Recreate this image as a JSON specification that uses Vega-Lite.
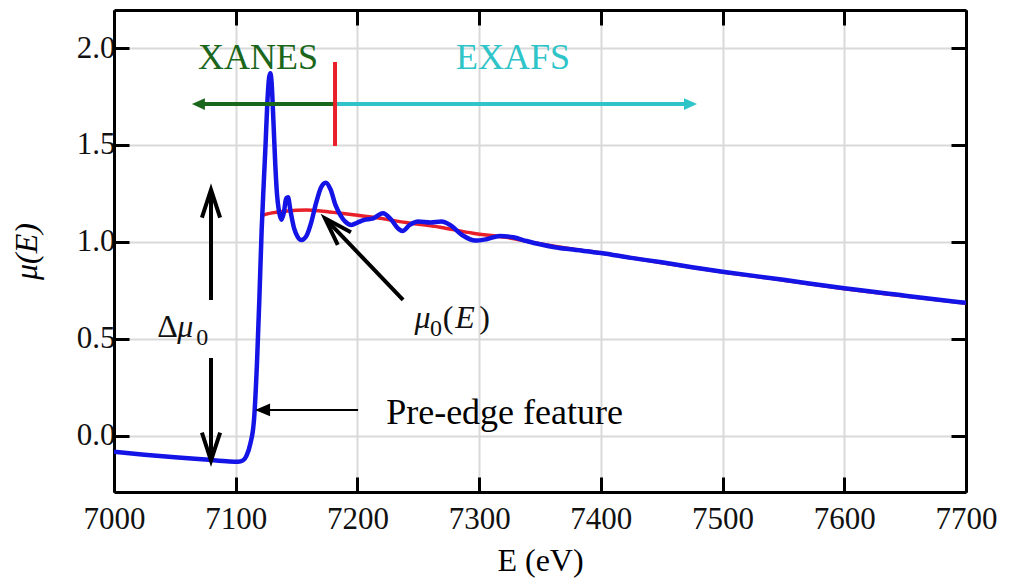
{
  "$schema": "https://vega.github.io/schema/vega-lite/v6.json",
  "width": 852,
  "height": 482,
  "autosize": {"type": "none"},
  "padding": {"left": 114, "top": 10, "right": 43, "bottom": 89},
  "background": "white",
  "config": {"view": {"stroke": null}, "font": "Liberation Serif"},
  "datasets": {
    "blue": [
      {"x": 7000, "y": -0.082}, {"x": 7025, "y": -0.097}, {"x": 7050, "y": -0.110}, {"x": 7075, "y": -0.122},
      {"x": 7095, "y": -0.132}, {"x": 7102, "y": -0.133}, {"x": 7106, "y": -0.126}, {"x": 7109, "y": -0.100},
      {"x": 7112, "y": -0.040}, {"x": 7115, "y": 0.080}, {"x": 7117.5, "y": 0.380}, {"x": 7119.5, "y": 0.720},
      {"x": 7121.3, "y": 1.060}, {"x": 7123, "y": 1.300}, {"x": 7124.5, "y": 1.500}, {"x": 7126, "y": 1.720},
      {"x": 7127.5, "y": 1.850}, {"x": 7128.5, "y": 1.870}, {"x": 7129.5, "y": 1.820}, {"x": 7131, "y": 1.620},
      {"x": 7132.5, "y": 1.400}, {"x": 7134, "y": 1.240}, {"x": 7135.5, "y": 1.160}, {"x": 7137.5, "y": 1.115},
      {"x": 7139.5, "y": 1.150}, {"x": 7141.5, "y": 1.225}, {"x": 7143, "y": 1.230}, {"x": 7145, "y": 1.160},
      {"x": 7148, "y": 1.070}, {"x": 7151, "y": 1.025}, {"x": 7154, "y": 1.010}, {"x": 7158, "y": 1.030},
      {"x": 7162, "y": 1.100}, {"x": 7166, "y": 1.200}, {"x": 7170, "y": 1.280}, {"x": 7174, "y": 1.306},
      {"x": 7178, "y": 1.270}, {"x": 7182, "y": 1.190}, {"x": 7186, "y": 1.139}, {"x": 7190, "y": 1.105},
      {"x": 7195, "y": 1.088}, {"x": 7200, "y": 1.100}, {"x": 7205, "y": 1.113}, {"x": 7213, "y": 1.122},
      {"x": 7221, "y": 1.148}, {"x": 7228, "y": 1.113}, {"x": 7234, "y": 1.066}, {"x": 7237, "y": 1.057},
      {"x": 7243, "y": 1.088}, {"x": 7250, "y": 1.105}, {"x": 7260, "y": 1.100}, {"x": 7269, "y": 1.105},
      {"x": 7276, "y": 1.088}, {"x": 7286, "y": 1.036}, {"x": 7297, "y": 1.007}, {"x": 7306, "y": 1.014},
      {"x": 7317, "y": 1.031}, {"x": 7328, "y": 1.024}, {"x": 7339, "y": 1.005}, {"x": 7350, "y": 0.988},
      {"x": 7362, "y": 0.973}, {"x": 7375, "y": 0.962}, {"x": 7400, "y": 0.943}, {"x": 7425, "y": 0.918}, {"x": 7450, "y": 0.895},
      {"x": 7475, "y": 0.870}, {"x": 7500, "y": 0.847}, {"x": 7550, "y": 0.805}, {"x": 7600, "y": 0.761},
      {"x": 7650, "y": 0.723}, {"x": 7700, "y": 0.686}
    ],
    "red": [
      {"x": 7122.5, "y": 1.139}, {"x": 7130, "y": 1.150}, {"x": 7140, "y": 1.158}, {"x": 7150, "y": 1.163},
      {"x": 7158, "y": 1.165}, {"x": 7170, "y": 1.160}, {"x": 7186, "y": 1.148}, {"x": 7200, "y": 1.138},
      {"x": 7213, "y": 1.127}, {"x": 7240, "y": 1.100}, {"x": 7268, "y": 1.076}, {"x": 7295, "y": 1.045},
      {"x": 7322, "y": 1.024}, {"x": 7345, "y": 0.996}, {"x": 7375, "y": 0.965}, {"x": 7400, "y": 0.943},
      {"x": 7450, "y": 0.893}, {"x": 7500, "y": 0.845}, {"x": 7550, "y": 0.803}, {"x": 7600, "y": 0.759},
      {"x": 7650, "y": 0.721}, {"x": 7700, "y": 0.684}
    ],
    "segs": [
      {"g": "xanes", "x": 7072, "y": 1.711, "x2": 7181.6, "y2": 1.711},
      {"g": "exafs", "x": 7181.6, "y": 1.711, "x2": 7472, "y2": 1.711},
      {"g": "edge", "x": 7181.6, "y": 1.928, "x2": 7181.6, "y2": 1.495},
      {"g": "note", "x": 7079.7, "y": 1.268, "x2": 7079.7, "y2": 0.701},
      {"g": "note", "x": 7079.7, "y": 0.402, "x2": 7079.7, "y2": -0.125},
      {"g": "note", "x": 7237.5, "y": 0.701, "x2": 7173.4, "y2": 1.122}
    ],
    "thin": [{"x": 7200.5, "y": 0.134, "x2": 7122, "y2": 0.134}],
    "labels": [
      {"t": "XANES", "x": 7118.3, "y": 1.892, "g": "xanes"},
      {"t": "EXAFS", "x": 7327.8, "y": 1.892, "g": "exafs"},
      {"t": "Pre-edge feature", "x": 7320.9, "y": 0.062, "g": "note"}
    ],
    "mathItalic": [
      {"t": "μ", "x": 7058.5, "y": 0.510},
      {"t": "μ", "x": 7253.5, "y": 0.557},
      {"t": "E", "x": 7288.4, "y": 0.557}
    ],
    "mathUpright": [
      {"t": "Δ", "x": 7044.0, "y": 0.510},
      {"t": "(", "x": 7274.5, "y": 0.557},
      {"t": ")", "x": 7304.5, "y": 0.557}
    ],
    "mathSub": [
      {"t": "0", "x": 7072.5, "y": 0.469},
      {"t": "0", "x": 7264.6, "y": 0.515}
    ]
  },
  "resolve": {"axis": {"x": "independent", "y": "independent"}},
  "layer": [
    {
      "data": {"name": "red"},
      "mark": {"type": "line", "interpolate": "monotone", "strokeWidth": 3.5, "color": "#e8202a", "clip": true},
      "encoding": {
        "x": {"field": "x", "type": "quantitative", "scale": {"domain": [7000, 7700], "nice": false, "zero": false},
          "axis": {"orient": "top", "values": [7000, 7100, 7200, 7300, 7400, 7500, 7600, 7700], "labels": false, "title": null,
            "grid": false, "tickSize": -15, "tickWidth": 3, "tickColor": "#000", "domainColor": "#000", "domainWidth": 3}},
        "y": {"field": "y", "type": "quantitative", "scale": {"domain": [-0.289, 2.196], "nice": false, "zero": false},
          "axis": {"orient": "right", "values": [0, 0.5, 1, 1.5, 2], "labels": false, "title": null,
            "grid": false, "tickSize": -15, "tickWidth": 3, "tickColor": "#000", "domainColor": "#000", "domainWidth": 3}}
      }
    },
    {
      "data": {"name": "blue"},
      "mark": {"type": "line", "interpolate": "monotone", "strokeWidth": 4.5, "color": "#1414e6", "clip": true},
      "encoding": {
        "x": {"field": "x", "type": "quantitative", "scale": {"domain": [7000, 7700], "nice": false, "zero": false},
          "axis": {"orient": "bottom", "values": [7000, 7100, 7200, 7300, 7400, 7500, 7600, 7700], "format": "d",
            "title": "E (eV)", "titleFont": "Liberation Serif", "titleFontSize": 32, "titleFontWeight": "normal", "titleColor": "#000", "titlePadding": 11,
            "labelFont": "Liberation Serif", "labelFontSize": 31, "labelColor": "#111", "labelPadding": 27, "labelFlush": false, "labelOverlap": false,
            "grid": true, "gridColor": "#d9d9d9", "gridWidth": 2,
            "tickSize": -15, "tickWidth": 3, "tickColor": "#000", "domainColor": "#000", "domainWidth": 3}},
        "y": {"field": "y", "type": "quantitative", "scale": {"domain": [-0.289, 2.196], "nice": false, "zero": false},
          "axis": {"orient": "left", "values": [0, 0.5, 1, 1.5, 2], "format": ".1f",
            "title": "μ(E)", "titleFont": "Liberation Serif", "titleFontSize": 32, "titleFontWeight": "normal", "titleFontStyle": "italic", "titleColor": "#000", "titlePadding": 33,
            "labelFont": "Liberation Serif", "labelFontSize": 31, "labelColor": "#111", "labelPadding": 14, "labelFlush": false, "labelOverlap": false,
            "grid": true, "gridColor": "#d9d9d9", "gridWidth": 2,
            "tickSize": -15, "tickWidth": 3, "tickColor": "#000", "domainColor": "#000", "domainWidth": 3}}
      }
    },
    {
      "data": {"name": "segs"},
      "mark": {"type": "rule", "strokeWidth": 4, "clip": false},
      "encoding": {
        "x": {"field": "x", "type": "quantitative", "scale": {"domain": [7000, 7700], "nice": false, "zero": false}, "axis": null},
        "y": {"field": "y", "type": "quantitative", "scale": {"domain": [-0.289, 2.196], "nice": false, "zero": false}, "axis": null},
        "x2": {"field": "x2"},
        "y2": {"field": "y2"},
        "color": {"field": "g", "type": "nominal", "scale": {"domain": ["xanes", "exafs", "edge", "note"], "range": ["#1a661a", "#2ec4c8", "#e8202a", "#000000"]}, "legend": null}
      }
    },
    {
      "data": {"name": "thin"},
      "mark": {"type": "rule", "strokeWidth": 2, "color": "#000", "clip": false},
      "encoding": {
        "x": {"field": "x", "type": "quantitative", "scale": {"domain": [7000, 7700], "nice": false, "zero": false}, "axis": null},
        "y": {"field": "y", "type": "quantitative", "scale": {"domain": [-0.289, 2.196], "nice": false, "zero": false}, "axis": null},
        "x2": {"field": "x2"},
        "y2": {"field": "y2"}
      }
    },
    {
      "data": {"values": [{"x": 7079.7, "y": 1.27}]},
      "mark": {"type": "point", "shape": "M -0.65 2 L 0 0 L 0.65 2", "filled": false, "stroke": "#000", "strokeWidth": 4, "size": 784, "opacity": 1, "angle": 0, "strokeJoin": "miter", "clip": false},
      "encoding": {
        "x": {"field": "x", "type": "quantitative", "scale": {"domain": [7000, 7700], "nice": false, "zero": false}, "axis": null},
        "y": {"field": "y", "type": "quantitative", "scale": {"domain": [-0.289, 2.196], "nice": false, "zero": false}, "axis": null}
      }
    },
    {
      "data": {"values": [{"x": 7079.7, "y": -0.127}]},
      "mark": {"type": "point", "shape": "M -0.65 2 L 0 0 L 0.65 2", "filled": false, "stroke": "#000", "strokeWidth": 4, "size": 784, "opacity": 1, "angle": 180, "strokeJoin": "miter", "clip": false},
      "encoding": {
        "x": {"field": "x", "type": "quantitative", "scale": {"domain": [7000, 7700], "nice": false, "zero": false}, "axis": null},
        "y": {"field": "y", "type": "quantitative", "scale": {"domain": [-0.289, 2.196], "nice": false, "zero": false}, "axis": null}
      }
    },
    {
      "data": {"values": [{"x": 7173.4, "y": 1.122}]},
      "mark": {"type": "point", "shape": "M -0.65 2 L 0 0 L 0.65 2", "filled": false, "stroke": "#000", "strokeWidth": 4, "size": 784, "opacity": 1, "angle": 316.4, "strokeJoin": "miter", "clip": false},
      "encoding": {
        "x": {"field": "x", "type": "quantitative", "scale": {"domain": [7000, 7700], "nice": false, "zero": false}, "axis": null},
        "y": {"field": "y", "type": "quantitative", "scale": {"domain": [-0.289, 2.196], "nice": false, "zero": false}, "axis": null}
      }
    },
    {
      "data": {"values": [{"x": 7064, "y": 1.711}]},
      "mark": {"type": "point", "shape": "M 0 0 L 2 -0.9 L 2 0.9 Z", "filled": true, "color": "#1a661a", "size": 169, "opacity": 1, "clip": false},
      "encoding": {
        "x": {"field": "x", "type": "quantitative", "scale": {"domain": [7000, 7700], "nice": false, "zero": false}, "axis": null},
        "y": {"field": "y", "type": "quantitative", "scale": {"domain": [-0.289, 2.196], "nice": false, "zero": false}, "axis": null}
      }
    },
    {
      "data": {"values": [{"x": 7479, "y": 1.711}]},
      "mark": {"type": "point", "shape": "M 0 0 L -2 -0.9 L -2 0.9 Z", "filled": true, "color": "#2ec4c8", "size": 169, "opacity": 1, "clip": false},
      "encoding": {
        "x": {"field": "x", "type": "quantitative", "scale": {"domain": [7000, 7700], "nice": false, "zero": false}, "axis": null},
        "y": {"field": "y", "type": "quantitative", "scale": {"domain": [-0.289, 2.196], "nice": false, "zero": false}, "axis": null}
      }
    },
    {
      "data": {"values": [{"x": 7115.9, "y": 0.134}]},
      "mark": {"type": "point", "shape": "M 0 0 L 2 -0.85 L 2 0.85 Z", "filled": true, "color": "#000", "size": 225, "opacity": 1, "clip": false},
      "encoding": {
        "x": {"field": "x", "type": "quantitative", "scale": {"domain": [7000, 7700], "nice": false, "zero": false}, "axis": null},
        "y": {"field": "y", "type": "quantitative", "scale": {"domain": [-0.289, 2.196], "nice": false, "zero": false}, "axis": null}
      }
    },
    {
      "data": {"name": "labels"},
      "mark": {"type": "text", "font": "Liberation Serif", "fontSize": 36, "align": "center", "baseline": "alphabetic", "clip": false},
      "encoding": {
        "x": {"field": "x", "type": "quantitative", "scale": {"domain": [7000, 7700], "nice": false, "zero": false}, "axis": null},
        "y": {"field": "y", "type": "quantitative", "scale": {"domain": [-0.289, 2.196], "nice": false, "zero": false}, "axis": null},
        "text": {"field": "t"},
        "color": {"field": "g", "type": "nominal", "scale": {"domain": ["xanes", "exafs", "note"], "range": ["#237a23", "#36c2c4", "#000000"]}, "legend": null}
      }
    },
    {
      "data": {"name": "mathItalic"},
      "mark": {"type": "text", "font": "Liberation Serif", "fontSize": 32, "fontStyle": "italic", "align": "center", "baseline": "alphabetic", "color": "#111", "clip": false},
      "encoding": {
        "x": {"field": "x", "type": "quantitative", "scale": {"domain": [7000, 7700], "nice": false, "zero": false}, "axis": null},
        "y": {"field": "y", "type": "quantitative", "scale": {"domain": [-0.289, 2.196], "nice": false, "zero": false}, "axis": null},
        "text": {"field": "t"}
      }
    },
    {
      "data": {"name": "mathUpright"},
      "mark": {"type": "text", "font": "Liberation Serif", "fontSize": 32, "align": "center", "baseline": "alphabetic", "color": "#111", "clip": false},
      "encoding": {
        "x": {"field": "x", "type": "quantitative", "scale": {"domain": [7000, 7700], "nice": false, "zero": false}, "axis": null},
        "y": {"field": "y", "type": "quantitative", "scale": {"domain": [-0.289, 2.196], "nice": false, "zero": false}, "axis": null},
        "text": {"field": "t"}
      }
    },
    {
      "data": {"name": "mathSub"},
      "mark": {"type": "text", "font": "Liberation Serif", "fontSize": 24, "align": "center", "baseline": "alphabetic", "color": "#111", "clip": false},
      "encoding": {
        "x": {"field": "x", "type": "quantitative", "scale": {"domain": [7000, 7700], "nice": false, "zero": false}, "axis": null},
        "y": {"field": "y", "type": "quantitative", "scale": {"domain": [-0.289, 2.196], "nice": false, "zero": false}, "axis": null},
        "text": {"field": "t"}
      }
    }
  ]
}
